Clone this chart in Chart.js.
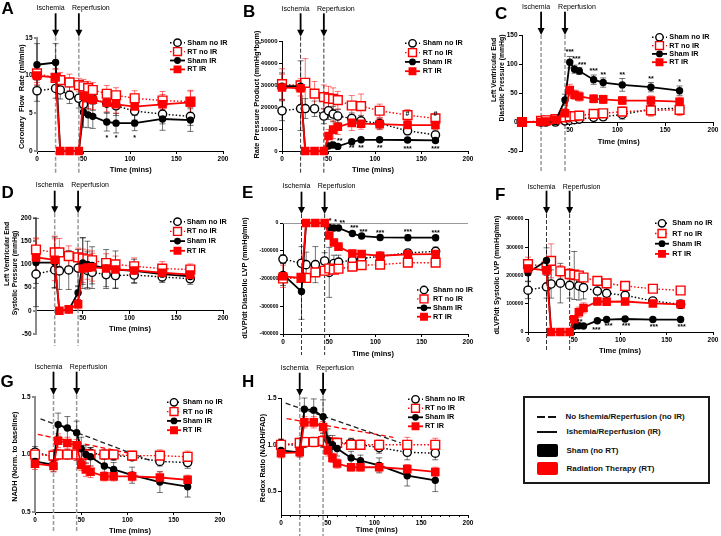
<!DOCTYPE html>
<html>
<head>
<meta charset="utf-8">
<script src="https://cdn.jsdelivr.net/npm/chart.js@4.4.1/dist/chart.umd.min.js"></script>
<style>
  body { margin: 0; background: #fff; width: 721px; height: 536px; position: relative; overflow: hidden;
         font-family: "Liberation Sans", Arial, sans-serif; }
  canvas { position: absolute; }
  .k { position: absolute; }
  .kt { position: absolute; font-weight: bold; font-size: 8px; line-height: 10px; color: #111; white-space: nowrap; }
</style>
</head>
<body>
<canvas id="pA"></canvas>
<canvas id="pB"></canvas>
<canvas id="pC"></canvas>
<canvas id="pD"></canvas>
<canvas id="pE"></canvas>
<canvas id="pF"></canvas>
<canvas id="pG"></canvas>
<canvas id="pH"></canvas>

<div class="k" style="left:523px;top:396px;width:187px;height:88px;border:2px solid #1a1a1a;box-sizing:border-box;"></div>
<div class="k" style="left:537px;top:415.5px;width:8px;height:2px;background:#111;"></div>
<div class="k" style="left:548px;top:415.5px;width:8px;height:2px;background:#111;"></div>
<div class="kt" style="left:565.5px;top:411.5px;">No Ishemia/Reperfusion (no IR)</div>
<div class="k" style="left:537px;top:431px;width:20px;height:2px;background:#111;"></div>
<div class="kt" style="left:566.5px;top:427px;">Ishemia/Reperfusion (IR)</div>
<div class="k" style="left:537px;top:444px;width:21px;height:13px;background:#000;border-radius:2px;"></div>
<div class="kt" style="left:566.5px;top:446px;">Sham (no RT)</div>
<div class="k" style="left:537px;top:462px;width:21px;height:13px;background:#ff0000;border-radius:2px;"></div>
<div class="kt" style="left:566.5px;top:463.5px;">Radiation Therapy (RT)</div>

<script>
// time points (mins) shared by every panel
const timeMins = [0, 20, 25, 35, 45, 50, 55, 60, 75, 85, 105, 135, 165];
const groupNames = ['Sham no IR', 'RT no IR', 'Sham IR', 'RT IR'];
const eventTimes = [20, 45];
const eventNames = ['Ischemia', 'Reperfusion'];
const xTicks = [0, 50, 100, 150, 200];

// A - coronary flow rate (ml/min)
const flowShamNoIR = [8.0, 8.3, 8.1, 7.4, 7.0, 6.2, 7.2, 6.9, 6.35, 6.0, 5.3, 4.9, 4.6];
const flowShamNoIRErr = [1.4, 1.3, 1.2, 1.1, 1.3, 1.2, 1.6, 1.5, 1.3, 1.3, 1.2, 1.3, 1.2];
const flowRtNoIR = [10.3, 9.7, 9.4, 9.1, 8.75, 8.6, 8.35, 8.1, 7.6, 7.4, 7.0, 6.7, 6.55];
const flowRtNoIRErr = [1.2, 1.1, 1.0, 1.1, 0.9, 0.9, 0.9, 1.0, 1.1, 1.0, 1.0, 1.2, 1.5];
const flowShamIR = [11.45, 11.75, 0, 0, 0, 5.15, 4.8, 4.6, 3.85, 3.7, 3.7, 4.25, 4.1];
const flowShamIRErr = [2.8, 2.5, 0, 0, 0, 2.0, 1.7, 1.6, 1.2, 1.3, 1.0, 1.5, 1.5];
const flowRtIR = [10.0, 9.75, 0, 0, 0, 7.35, 7.0, 6.8, 6.4, 6.2, 5.9, 6.2, 6.45];
const flowRtIRErr = [1.2, 1.2, 0, 0, 0, 1.5, 1.4, 1.3, 1.2, 1.2, 0.8, 1.3, 1.5];
const flowStarX = [75, 85, 105];
const flowStarY = [1.9, 1.9, 1.9];
const flowStarText = ['*', '*', '*'];

// B - rate pressure product (mmHg*bpm)
const rppShamNoIR = [18300, 19300, 19300, 19200, 15900, 18300, 16800, 15900, 14800, 13700, 12500, 9200, 7300];
const rppShamNoIRErr = [4500, 10000, 4500, 3500, 3500, 4000, 3500, 3000, 2500, 2500, 2500, 1800, 1800];
const rppRtNoIR = [30400, 29800, 31000, 26100, 24500, 23900, 23700, 23100, 20700, 20400, 18300, 16300, 14800];
const rppRtNoIRErr = [7000, 3000, 11000, 5500, 5500, 5500, 5000, 4000, 4500, 5500, 3000, 2500, 2000];
const rppShamIR = [29500, 29500, 0, 0, 0, 2300, 2700, 2100, 4200, 5100, 5100, 5000, 4800];
const rppShamIRErr = [6000, 11500, 0, 0, 0, 1000, 1000, 800, 800, 900, 900, 900, 900];
const rppRtIR = [28900, 28500, 0, 0, 0, 6800, 9700, 11000, 12800, 12400, 12200, 11800, 11800];
const rppRtIRErr = [6000, 3500, 0, 0, 0, 3000, 4000, 3500, 3500, 2500, 2500, 2000, 2000];
const rppStarX = [53, 62, 75, 85, 105, 135, 165, 135, 165];
const rppStarY = [4000, 5200, 1900, 1900, 1900, 1500, 1500, 17600, 17600];
const rppStarText = ['*', '**', '**', '**', '**', '***', '***', '#', '#'];

// C - LV end diastolic pressure (mmHg)
const lvedpShamNoIR = [0, 0, 0, 0, 2, 3, 4, 5, 8, 9, 13, 22, 24];
const lvedpShamNoIRErr = [1, 1, 1, 1, 2, 2, 3, 3, 4, 5, 8, 10, 9];
const lvedpRtNoIR = [0, 2, 3, 5, 8, 10, 10, 11, 14, 15, 18, 20, 21];
const lvedpRtNoIRErr = [1, 2, 2, 3, 5, 5, 5, 5, 5, 6, 8, 10, 10];
const lvedpShamIR = [0, 0, 0, 1, 38, 103, 91, 88, 73, 68, 64, 60, 54];
const lvedpShamIRErr = [1, 1, 1, 1, 10, 10, 7, 6, 8, 8, 11, 8, 8];
const lvedpRtIR = [0, 0, 1, 4, 15, 55, 47, 44, 40, 39, 37, 37, 35];
const lvedpRtIRErr = [1, 1, 1, 2, 8, 10, 8, 8, 7, 7, 7, 8, 8];
const lvedpStarX = [50, 57, 63, 75, 85, 105, 135, 165];
const lvedpStarY = [124, 111, 101, 91, 83, 83, 77, 71];
const lvedpStarText = ['***', '***', '***', '***', '**', '**', '**', '*'];

// D - LV end systolic pressure (mmHg)
const lvspShamNoIR = [79, 88, 86, 88, 92, 107, 87, 83, 78, 76, 77, 73, 69];
const lvspShamNoIRErr = [20, 38, 40, 42, 40, 50, 40, 35, 30, 28, 18, 12, 12];
const lvspRtNoIR = [132, 126, 126, 118, 115, 113, 111, 109, 103, 100, 96, 91, 89];
const lvspRtNoIRErr = [25, 35, 30, 22, 20, 20, 20, 20, 20, 18, 18, 15, 12];
const lvspShamIR = [104, 104, 0, 2, 39, 103, 100, 98, 92, 89, 86, 79, 74];
const lvspShamIRErr = [95, 55, 5, 5, 15, 55, 50, 40, 40, 40, 25, 15, 12];
const lvspRtIR = [115, 110, 0, 3, 14, 91, 93, 94, 91, 89, 87, 82, 78];
const lvspRtIRErr = [40, 45, 5, 5, 10, 30, 25, 30, 20, 20, 15, 15, 12];

// E - dLVP/dt diastolic (mmHg/min)
const dpDiaShamNoIR = [-130000, -145000, -150000, -150000, -137000, -178000, -146000, -141000, -134000, -128000, -120000, -108000, -102000];
const dpDiaShamNoIRErr = [15000, 60000, 45000, 65000, 30000, 90000, 30000, 25000, 20000, 15000, 12000, 12000, 15000];
const dpDiaRtNoIR = [-200000, -198000, -198000, -178000, -172000, -164000, -168000, -165000, -157000, -152000, -150000, -143000, -143000];
const dpDiaRtNoIRErr = [15000, 12000, 12000, 12000, 10000, 10000, 10000, 10000, 8000, 8000, 8000, 8000, 8000];
const dpDiaShamIR = [-185000, -247000, 0, 0, 0, -16000, -18000, -18000, -38000, -47000, -52000, -53000, -53000];
const dpDiaShamIRErr = [40000, 100000, 0, 0, 0, 3000, 4000, 4000, 6000, 7000, 8000, 10000, 8000];
const dpDiaRtIR = [-192000, -198000, 0, 0, 0, -45000, -70000, -85000, -110000, -112000, -118000, -113000, -112000];
const dpDiaRtIRErr = [40000, 15000, 0, 0, 0, 10000, 12000, 12000, 12000, 10000, 8000, 7000, 8000];
const dpDiaStarX = [51, 57, 64, 77, 87, 105, 135, 165];
const dpDiaStarY = [12000, 10000, 4000, -14000, -29000, -30000, -26000, -30000];
const dpDiaStarText = ['*', '*', '**', '***', '***', '***', '***', '***'];

// F - dLVP/dt systolic (mmHg/min)
const dpSysShamNoIR = [148000, 160000, 170000, 173000, 165000, 200000, 163000, 157000, 145000, 137000, 130000, 110000, 98000];
const dpSysShamNoIRErr = [30000, 40000, 50000, 70000, 45000, 85000, 50000, 40000, 25000, 20000, 15000, 10000, 15000];
const dpSysRtNoIR = [240000, 232000, 252000, 215000, 205000, 203000, 200000, 193000, 181000, 172000, 163000, 153000, 147000];
const dpSysRtNoIRErr = [25000, 15000, 60000, 20000, 20000, 15000, 15000, 12000, 10000, 8000, 10000, 8000, 8000];
const dpSysShamIR = [210000, 253000, 0, 0, 0, 20000, 22000, 21000, 40000, 44000, 46000, 44000, 44000];
const dpSysShamIRErr = [30000, 45000, 0, 0, 0, 5000, 5000, 5000, 5000, 5000, 5000, 5000, 5000];
const dpSysRtIR = [225000, 218000, 0, 0, 0, 45000, 70000, 85000, 108000, 107000, 108000, 101000, 98000];
const dpSysRtIRErr = [25000, 15000, 0, 0, 0, 12000, 18000, 18000, 12000, 12000, 12000, 8000, 8000];
const dpSysStarX = [56, 74, 87, 106, 136, 166];
const dpSysStarY = [41500, 11900, 27300, 27300, 23700, 23700];
const dpSysStarText = ['**', '***', '***', '***', '***', '***'];

// G - NADH normalised to baseline
const nadhShamNoIR = [1.02, 0.98, 1.0, 1.0, 1.0, 1.02, 1.0, 1.01, 1.0, 0.99, 0.98, 0.94, 0.93];
const nadhShamNoIRErr = [0.05, 0.04, 0.04, 0.04, 0.05, 0.06, 0.04, 0.05, 0.04, 0.04, 0.03, 0.04, 0.05];
const nadhRtNoIR = [1.0, 0.99, 1.0, 1.0, 1.0, 1.0, 1.0, 1.0, 1.0, 1.0, 0.99, 0.99, 0.98];
const nadhRtNoIRErr = [0.05, 0.05, 0.04, 0.04, 0.05, 0.05, 0.04, 0.04, 0.04, 0.04, 0.04, 0.05, 0.05];
const nadhShamIR = [0.94, 0.91, 1.26, 1.23, 1.19, 1.05, 1.0, 0.98, 0.9, 0.87, 0.82, 0.76, 0.72];
const nadhShamIRErr = [0.04, 0.06, 0.1, 0.1, 0.1, 0.1, 0.08, 0.08, 0.06, 0.06, 0.07, 0.09, 0.09];
const nadhRtIR = [0.92, 0.90, 1.12, 1.10, 1.08, 0.91, 0.87, 0.85, 0.81, 0.81, 0.81, 0.80, 0.78];
const nadhRtIRErr = [0.05, 0.05, 0.06, 0.05, 0.05, 0.05, 0.06, 0.05, 0.04, 0.04, 0.04, 0.05, 0.04];
const nadhFitShamX = [6, 124];
const nadhFitShamY = [1.31, 0.95];
const nadhFitRtX = [3, 108];
const nadhFitRtY = [1.175, 1.0];

// H - redox ratio (NADH/FAD)
const redoxShamNoIR = [1.01, 0.99, 1.02, 1.03, 1.03, 1.04, 1.0, 1.02, 1.02, 1.0, 0.97, 0.92, 0.91];
const redoxShamNoIRErr = [0.05, 0.04, 0.05, 0.05, 0.06, 0.06, 0.05, 0.05, 0.05, 0.05, 0.06, 0.08, 0.07];
const redoxRtNoIR = [1.0, 1.02, 1.03, 1.03, 1.04, 1.03, 1.02, 1.02, 1.0, 1.0, 1.0, 1.0, 1.0];
const redoxRtNoIRErr = [0.06, 0.05, 0.05, 0.05, 0.06, 0.05, 0.05, 0.05, 0.05, 0.05, 0.05, 0.08, 0.07];
const redoxShamIR = [0.94, 0.92, 1.38, 1.37, 1.3, 1.05, 1.0, 0.96, 0.86, 0.83, 0.78, 0.67, 0.62];
const redoxShamIRErr = [0.06, 0.05, 0.12, 0.12, 0.18, 0.12, 0.1, 0.08, 0.07, 0.06, 0.08, 0.11, 0.12];
const redoxRtIR = [0.91, 0.92, 1.24, 1.24, 1.19, 0.94, 0.86, 0.80, 0.76, 0.76, 0.76, 0.74, 0.71];
const redoxRtIRErr = [0.05, 0.05, 0.06, 0.06, 0.06, 0.06, 0.05, 0.05, 0.04, 0.04, 0.05, 0.05, 0.05];
const redoxFitShamX = [5, 128];
const redoxFitShamY = [1.445, 1.02];
const redoxFitRtX = [6, 120];
const redoxFitRtY = [1.28, 1.08];

const FONT = '"Liberation Sans", Arial, sans-serif';
Chart.defaults.font.family = FONT;

// marker/line look of the four groups
const looks = [
  { color: '#000', dash: [1.5, 2], point: 'circle', r: 4.1, fill: '#fff', lw: 1.4, err: 'rgba(0,0,0,0.55)' },
  { color: '#f00', dash: [1.5, 2], point: 'rect', r: 6.2, fill: '#fff', lw: 1.4, err: 'rgba(255,0,0,0.55)' },
  { color: '#000', dash: [], point: 'circle', r: 2.8, fill: '#000', lw: 1.8, err: 'rgba(0,0,0,0.55)' },
  { color: '#f00', dash: [], point: 'rect', r: 4.8, fill: '#f00', lw: 1.8, err: 'rgba(255,0,0,0.55)' }
];
// label offsets of the two event captions relative to their arrows
const eventTextShift = [-5, 12];

const num = v => String(v);
const dec = v => v.toFixed(1);

const panels = [
  { id: 'pA', letter: 'A', box: { x: 0, y: 0, w: 240, h: 176 }, area: { l: 37, t: 38, r: 223, b: 151 },
    y: { min: 0, max: 15, ticks: [0, 5, 10, 15], size: 6.5, fmt: num }, gray: true,
    series: [flowShamNoIR, flowRtNoIR, flowShamIR, flowRtIR],
    errs: [flowShamNoIRErr, flowRtNoIRErr, flowShamIRErr, flowRtIRErr],
    letterAt: [1.5, 14], ev: { textY: 8.3, top: 13.3, tip: 36.7, bottom: 173, color: '#999', lw: 1.5 },
    xTitle: [130.7, 170], yTitle: [{ text: 'Coronary  Flow  Rate (ml/min)', x: 21.7, y: 96.7 }],
    key: { x1: 170, x2: 185, tx: 187.3, y0: 42.7, dy: 8.9 },
    stars: [flowStarX, flowStarY, flowStarText] },
  { id: 'pB', letter: 'B', box: { x: 240, y: 0, w: 240, h: 176 }, area: { l: 282, t: 41, r: 468, b: 151 },
    y: { min: 0, max: 50000, ticks: [0, 10000, 20000, 30000, 40000, 50000], size: 6, fmt: num },
    series: [rppShamNoIR, rppRtNoIR, rppShamIR, rppRtIR],
    errs: [rppShamNoIRErr, rppRtNoIRErr, rppShamIRErr, rppRtIRErr],
    letterAt: [243, 17.3], ev: { textY: 9.3, top: 13.3, tip: 36.7, bottom: 173, color: '#333', lw: 1 },
    xTitle: [373, 170], yTitle: [{ text: 'Rate Pressure Product (mmHg*bpm)', x: 256.7, y: 94.5 }],
    key: { x1: 405, x2: 420, tx: 422.7, y0: 43.3, dy: 9.3 },
    stars: [rppStarX, rppStarY, rppStarText] },
  { id: 'pC', letter: 'C', box: { x: 480, y: 0, w: 241, h: 176 }, area: { l: 522, t: 35, r: 713, b: 151 }, xAt: 0,
    y: { min: -50, max: 150, ticks: [-50, 0, 50, 100, 150], size: 6.5, fmt: num },
    series: [lvedpShamNoIR, lvedpRtNoIR, lvedpShamIR, lvedpRtIR],
    errs: [lvedpShamNoIRErr, lvedpRtNoIRErr, lvedpShamIRErr, lvedpRtIRErr],
    letterAt: [495, 19.3], ev: { textY: 7.3, top: 11.7, tip: 35, bottom: 172, color: '#999', lw: 1.5 },
    xTitle: [618.7, 141.7],
    yTitle: [{ text: 'Left Ventricular End', x: 494.5, y: 70 }, { text: 'Diastolic Pressure (mmHg)', x: 502.5, y: 78 }],
    key: { x1: 652, x2: 667, tx: 669.3, y0: 37.3, dy: 8.3 },
    stars: [lvedpStarX, lvedpStarY, lvedpStarText] },
  { id: 'pD', letter: 'D', box: { x: 0, y: 170, w: 240, h: 190 }, area: { l: 36, t: 218, r: 223, b: 334 }, xAt: 0,
    y: { min: -50, max: 200, ticks: [-50, 0, 50, 100, 150, 200], size: 6.5, fmt: num }, gray: true,
    series: [lvspShamNoIR, lvspRtNoIR, lvspShamIR, lvspRtIR],
    errs: [lvspShamNoIRErr, lvspRtNoIRErr, lvspShamIRErr, lvspRtIRErr],
    letterAt: [1.5, 198.3], ev: { textY: 185.3, top: 190.7, tip: 213.3, bottom: 346, color: '#999', lw: 1.5 },
    xTitle: [130, 329],
    yTitle: [{ text: 'Left Ventricular End', x: 6.7, y: 254 }, { text: 'Systolic Pressure (mmHg)', x: 15, y: 273 }],
    key: { x1: 170, x2: 185, tx: 186.7, y0: 221.7, dy: 9.7 },
    stars: null },
  { id: 'pE', letter: 'E', box: { x: 240, y: 170, w: 240, h: 190 }, area: { l: 283, t: 223, r: 468, b: 334 },
    y: { min: -400000, max: 0, ticks: [-400000, -300000, -200000, -100000, 0], size: 5.2, fmt: num }, zeroLine: true,
    series: [dpDiaShamNoIR, dpDiaRtNoIR, dpDiaShamIR, dpDiaRtIR],
    errs: [dpDiaShamNoIRErr, dpDiaRtNoIRErr, dpDiaShamIRErr, dpDiaRtIRErr],
    letterAt: [242, 198.3], ev: { textY: 185.7, top: 191.7, tip: 214, bottom: 355, color: '#333', lw: 1 },
    xTitle: [373, 354], yTitle: [{ text: 'dLVP/dt Diastolic LVP (mmHg/min)', x: 245, y: 278 }],
    key: { x1: 417, x2: 431, tx: 433, y0: 290, dy: 8.9 },
    stars: [dpDiaStarX, dpDiaStarY, dpDiaStarText] },
  { id: 'pF', letter: 'F', box: { x: 480, y: 170, w: 241, h: 190 }, area: { l: 528, t: 219, r: 713, b: 332 },
    y: { min: 0, max: 400000, ticks: [0, 100000, 200000, 300000, 400000], size: 5.2, fmt: num },
    series: [dpSysShamNoIR, dpSysRtNoIR, dpSysShamIR, dpSysRtIR],
    errs: [dpSysShamNoIRErr, dpSysRtNoIRErr, dpSysShamIRErr, dpSysRtIRErr],
    letterAt: [495, 200], ev: { textY: 186.7, top: 190.7, tip: 214, bottom: 350, color: '#333', lw: 1 },
    xTitle: [620, 350.7], yTitle: [{ text: 'dLVP/dt Systolic LVP (mmHg/min)', x: 497.3, y: 275 }],
    key: { x1: 655, x2: 669, tx: 672.3, y0: 223.3, dy: 10.2 },
    stars: [dpSysStarX, dpSysStarY, dpSysStarText] },
  { id: 'pG', letter: 'G', box: { x: 0, y: 340, w: 240, h: 196 }, area: { l: 35, t: 397, r: 220, b: 512 },
    y: { min: 0.5, max: 1.5, ticks: [0.5, 1.0, 1.5], size: 6.5, fmt: dec }, gray: true,
    series: [nadhShamNoIR, nadhRtNoIR, nadhShamIR, nadhRtIR],
    errs: [nadhShamNoIRErr, nadhRtNoIRErr, nadhShamIRErr, nadhRtIRErr],
    fits: [[nadhFitShamX, nadhFitShamY, '#222'], [nadhFitRtX, nadhFitRtY, '#f00']],
    letterAt: [0.5, 386.7], ev: { textY: 367.3, top: 371.7, tip: 395, bottom: 533, color: '#999', lw: 1.5 },
    xTitle: [130, 530.7], yTitle: [{ text: 'NADH (Norm. to baseline)', x: 15, y: 456.7 }],
    key: { x1: 167, x2: 181, tx: 182.7, y0: 402.3, dy: 9.3 },
    stars: null },
  { id: 'pH', letter: 'H', box: { x: 240, y: 340, w: 240, h: 196 }, area: { l: 281, t: 398, r: 468, b: 515 },
    y: { min: 0.25, max: 1.5, ticks: [0.5, 1.0, 1.5], size: 6.5, fmt: dec }, minorX: true,
    series: [redoxShamNoIR, redoxRtNoIR, redoxShamIR, redoxRtIR],
    errs: [redoxShamNoIRErr, redoxRtNoIRErr, redoxShamIRErr, redoxRtIRErr],
    fits: [[redoxFitShamX, redoxFitShamY, '#222'], [redoxFitRtX, redoxFitRtY, '#f00']],
    letterAt: [242, 386.7], ev: { textY: 368.3, top: 372.7, tip: 396, bottom: 536, color: '#999', lw: 1.5 },
    xTitle: [376.7, 530], yTitle: [{ text: 'Redox Ratio (NADH/FAD)', x: 262.7, y: 458 }],
    key: { x1: 408, x2: 423, tx: 425, y0: 399.3, dy: 9 },
    stars: null }
];

function marker(ctx, s, x, y, k) {
  const r = s.r * k;
  ctx.save();
  ctx.setLineDash([]);
  ctx.lineWidth = s.lw;
  ctx.strokeStyle = s.color;
  ctx.fillStyle = s.fill;
  ctx.beginPath();
  if (s.point === 'circle') ctx.arc(x, y, r, 0, Math.PI * 2);
  else { const h = r * Math.SQRT1_2; ctx.rect(x - h, y - h, 2 * h, 2 * h); }
  ctx.fill();
  ctx.stroke();
  ctx.restore();
}

function makePanel(p) {
  const cv = document.getElementById(p.id);
  const bx = p.box;
  cv.width = bx.w; cv.height = bx.h;
  cv.style.left = bx.x + 'px'; cv.style.top = bx.y + 'px';
  const X = v => v - bx.x, Y = v => v - bx.y;
  const L = p.area.l - bx.x, T = p.area.t - bx.y;
  const R = bx.x + bx.w - p.area.r, B = bx.y + bx.h - p.area.b;
  const floating = p.xAt !== undefined;
  const xh = 12;

  const datasets = p.series.map((vals, i) => ({
    label: groupNames[i],
    data: timeMins.map((t, j) => ({ x: t, y: vals[j] })),
    err: p.errs[i], errColor: looks[i].err,
    borderColor: looks[i].color, borderDash: looks[i].dash, borderWidth: looks[i].lw,
    pointStyle: looks[i].point, pointRadius: looks[i].r, pointHoverRadius: looks[i].r,
    pointBackgroundColor: looks[i].fill, pointBorderColor: looks[i].color, pointBorderWidth: looks[i].lw,
    tension: 0, fill: false, clip: false, order: 3 - i
  }));
  (p.fits || []).forEach(f => datasets.push({
    data: f[0].map((x, j) => ({ x, y: f[1][j] })),
    borderColor: f[2], borderDash: [5, 3], borderWidth: 1.3, pointRadius: 0,
    tension: 0, fill: false, clip: false, order: 10
  }));

  const decor = {
    id: 'decor' + p.id,
    beforeDatasetsDraw(chart) {
      const ctx = chart.ctx, xs = chart.scales.x, ys = chart.scales.y, ca = chart.chartArea;
      ctx.save();
      if (p.zeroLine) {
        ctx.strokeStyle = '#999'; ctx.lineWidth = 1;
        const zy = Math.round(ys.getPixelForValue(0)) + 0.5;
        ctx.beginPath(); ctx.moveTo(ca.left, zy); ctx.lineTo(ca.right, zy); ctx.stroke();
      }
      // event dashed lines
      ctx.strokeStyle = p.ev.color; ctx.lineWidth = p.ev.lw; ctx.setLineDash([4, 2]);
      eventTimes.forEach(t => {
        const px = xs.getPixelForValue(t);
        ctx.beginPath(); ctx.moveTo(px, Y(p.ev.tip)); ctx.lineTo(px, Y(p.ev.bottom)); ctx.stroke();
      });
      ctx.setLineDash([]);
      // error bars
      chart.data.datasets.forEach(ds => {
        if (!ds.err) return;
        ctx.strokeStyle = ds.errColor; ctx.lineWidth = 1;
        ds.data.forEach((d, j) => {
          const e = ds.err[j];
          if (!e) return;
          const px = xs.getPixelForValue(d.x);
          const a = ys.getPixelForValue(d.y - e), b = ys.getPixelForValue(d.y + e);
          ctx.beginPath();
          ctx.moveTo(px, a); ctx.lineTo(px, b);
          ctx.moveTo(px - 3, a); ctx.lineTo(px + 3, a);
          ctx.moveTo(px - 3, b); ctx.lineTo(px + 3, b);
          ctx.stroke();
        });
      });
      ctx.restore();
    },
    afterDraw(chart) {
      const ctx = chart.ctx, xs = chart.scales.x, ys = chart.scales.y, ca = chart.chartArea;
      ctx.save();
      ctx.fillStyle = '#000';
      ctx.strokeStyle = '#000';
      // minor x ticks
      if (p.minorX) {
        ctx.lineWidth = 1;
        for (let v = 10; v < 200; v += 10) {
          if (v % 50 === 0) continue;
          const px = Math.round(xs.getPixelForValue(v)) + 0.5;
          ctx.beginPath(); ctx.moveTo(px, ca.bottom); ctx.lineTo(px, ca.bottom + 2); ctx.stroke();
        }
      }
      // panel letter
      ctx.font = 'bold 17px ' + FONT;
      ctx.textAlign = 'left'; ctx.textBaseline = 'alphabetic';
      ctx.fillText(p.letter, X(p.letterAt[0]), Y(p.letterAt[1]));
      // event labels and arrows
      ctx.font = '7px ' + FONT;
      ctx.textAlign = 'center'; ctx.textBaseline = 'middle';
      eventTimes.forEach((t, i) => {
        const px = xs.getPixelForValue(t);
        ctx.fillText(eventNames[i], px + eventTextShift[i], Y(p.ev.textY));
        const tip = Y(p.ev.tip), top = Y(p.ev.top);
        ctx.fillRect(px - 0.9, top, 1.8, tip - top - 6);
        ctx.beginPath();
        ctx.moveTo(px - 3.5, tip - 7); ctx.lineTo(px + 3.5, tip - 7); ctx.lineTo(px, tip);
        ctx.closePath(); ctx.fill();
      });
      // axis titles
      ctx.font = 'bold 7.5px ' + FONT;
      ctx.fillText('Time (mins)', X(p.xTitle[0]), Y(p.xTitle[1]));
      p.yTitle.forEach(tl => {
        ctx.save();
        ctx.translate(X(tl.x), Y(tl.y));
        ctx.rotate(-Math.PI / 2);
        ctx.font = 'bold ' + (p.yTitle.length > 1 ? 6.8 : 7.4) + 'px ' + FONT;
        ctx.fillText(tl.text, 0, 0);
        ctx.restore();
      });
      // in-plot legend
      const k = p.key;
      looks.forEach((s, i) => {
        const y = Y(k.y0 + i * k.dy), x1 = X(k.x1), x2 = X(k.x2);
        ctx.save();
        ctx.strokeStyle = s.color; ctx.lineWidth = s.lw; ctx.setLineDash(s.dash);
        ctx.beginPath(); ctx.moveTo(x1, y); ctx.lineTo(x2, y); ctx.stroke();
        ctx.restore();
        marker(ctx, s, (x1 + x2) / 2, y, 0.9);
        ctx.font = 'bold 7.3px ' + FONT;
        ctx.textAlign = 'left'; ctx.textBaseline = 'middle'; ctx.fillStyle = '#000';
        ctx.fillText(groupNames[i], X(k.tx), y);
      });
      // significance marks
      if (p.stars) {
        ctx.font = 'bold 7px ' + FONT;
        ctx.textAlign = 'center'; ctx.textBaseline = 'middle';
        p.stars[0].forEach((sx, i) => {
          ctx.fillText(p.stars[2][i], xs.getPixelForValue(sx), ys.getPixelForValue(p.stars[1][i]) + 1.5);
        });
      }
      ctx.restore();
    }
  };

  const axisColor = p.gray ? '#8c8c8c' : '#000';
  const axisWidth = p.gray ? 2 : 1;

  new Chart(cv, {
    type: 'line',
    data: { datasets },
    options: {
      responsive: false,
      animation: false,
      events: [],
      layout: { padding: { left: 0, top: T, right: R, bottom: floating ? B : B - xh } },
      plugins: { legend: { display: false }, tooltip: { enabled: false } },
      scales: {
        x: {
          type: 'linear', min: 0, max: 200,
          position: floating ? { y: p.xAt } : 'bottom',
          afterBuildTicks: s => { s.ticks = xTicks.map(v => ({ value: v })); },
          afterFit: s => { s.height = xh; },
          ticks: { color: '#000', padding: 1, maxRotation: 0, autoSkip: false,
                   font: { size: 6.5, weight: 'bold' },
                   callback: v => (floating && v === 0) ? '' : String(v) },
          grid: { drawOnChartArea: false, drawTicks: true, tickLength: 3, color: '#000' },
          border: { color: '#000', width: 1 }
        },
        y: {
          type: 'linear', min: p.y.min, max: p.y.max,
          afterBuildTicks: s => { s.ticks = p.y.ticks.map(v => ({ value: v })); },
          afterFit: s => { s.width = L; },
          ticks: { color: '#000', padding: 1.5, autoSkip: false,
                   font: { size: p.y.size, weight: 'bold' },
                   callback: v => p.y.fmt(v) },
          grid: { drawOnChartArea: false, drawTicks: true, tickLength: 3, color: axisColor, lineWidth: axisWidth },
          border: { color: axisColor, width: axisWidth }
        }
      }
    },
    plugins: [decor]
  });
}

panels.forEach(makePanel);
</script>
</body>
</html>
